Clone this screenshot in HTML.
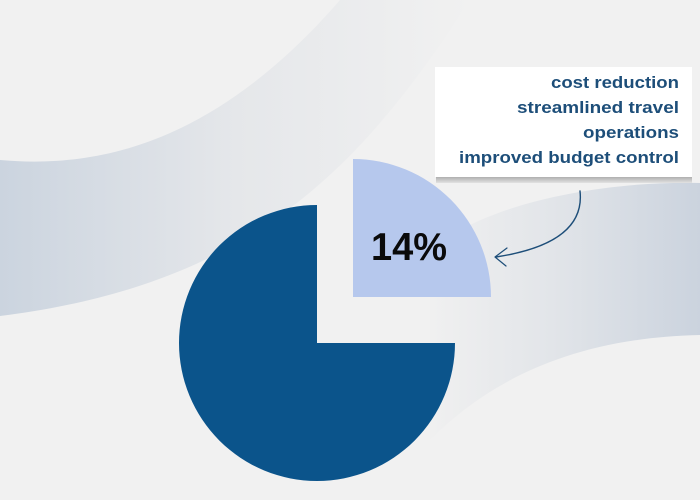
<!DOCTYPE html>
<html>
<head>
<meta charset="utf-8">
<style>
  html, body { margin: 0; padding: 0; background: #f1f1f1; }
  svg { display: block; }
</style>
</head>
<body>
<svg width="700" height="500" viewBox="0 0 700 500" xmlns="http://www.w3.org/2000/svg">
  <defs>
    <linearGradient id="gl" x1="0" y1="0" x2="1" y2="0" gradientUnits="objectBoundingBox">
      <stop offset="0" stop-color="#cbd4df"/>
      <stop offset="0.5" stop-color="#e5e7ea"/>
      <stop offset="1" stop-color="#f1f1f1"/>
    </linearGradient>
    <linearGradient id="gr" x1="0" y1="0" x2="1" y2="0" gradientUnits="objectBoundingBox">
      <stop offset="0" stop-color="#f0f0f0"/>
      <stop offset="0.45" stop-color="#e2e5e9"/>
      <stop offset="1" stop-color="#cbd3de"/>
    </linearGradient>
    <linearGradient id="sh" x1="0" y1="0" x2="0" y2="1">
      <stop offset="0" stop-color="#a6a6a6"/>
      <stop offset="1" stop-color="#e2e2e2"/>
    </linearGradient>
  </defs>

  <rect x="0" y="0" width="700" height="500" fill="#f1f1f1"/>

  <!-- left wave band -->
  <path d="M0,160 C90,168 210,150 340,0 L470,0 C360,170 250,285 0,316 Z" fill="url(#gl)"/>

  <!-- right wave band -->
  <path d="M430,440 C480,390 560,338 700,335 L700,183 C620,181 530,196 472,224 C455,234 440,250 430,262 Z" fill="url(#gr)"/>

  <!-- callout box -->
  <rect x="436" y="176" width="256" height="7" fill="url(#sh)"/>
  <rect x="435" y="67" width="257" height="110" fill="#ffffff"/>

  <g font-family="'Liberation Sans', sans-serif" font-weight="bold" font-size="17" fill="#1d4e79" text-anchor="end">
    <text x="679" y="88" textLength="128" lengthAdjust="spacingAndGlyphs">cost reduction</text>
    <text x="679" y="113" textLength="162" lengthAdjust="spacingAndGlyphs">streamlined travel</text>
    <text x="679" y="138" textLength="96" lengthAdjust="spacingAndGlyphs">operations</text>
    <text x="679" y="163" textLength="220" lengthAdjust="spacingAndGlyphs">improved budget control</text>
  </g>

  <!-- pie -->
  <path d="M317,343 L317,205 A138,138 0 1,0 455,343 Z" fill="#0b548b"/>
  <path d="M353,297 L353,159 A138,138 0 0,1 491,297 Z" fill="#b6c8ed"/>

  <text x="371" y="260" font-family="'Liberation Sans', sans-serif" font-weight="bold" font-size="39" fill="#0a0a0a" textLength="76" lengthAdjust="spacingAndGlyphs">14%</text>

  <!-- arrow -->
  <path d="M580,191 C583,218 568,246 496,257" fill="none" stroke="#1d4e79" stroke-width="1.4" stroke-linecap="round"/>
  <path d="M507,248 L495,257 L506,266" fill="none" stroke="#1d4e79" stroke-width="1.2" stroke-linecap="round" stroke-linejoin="round"/>
</svg>
</body>
</html>
